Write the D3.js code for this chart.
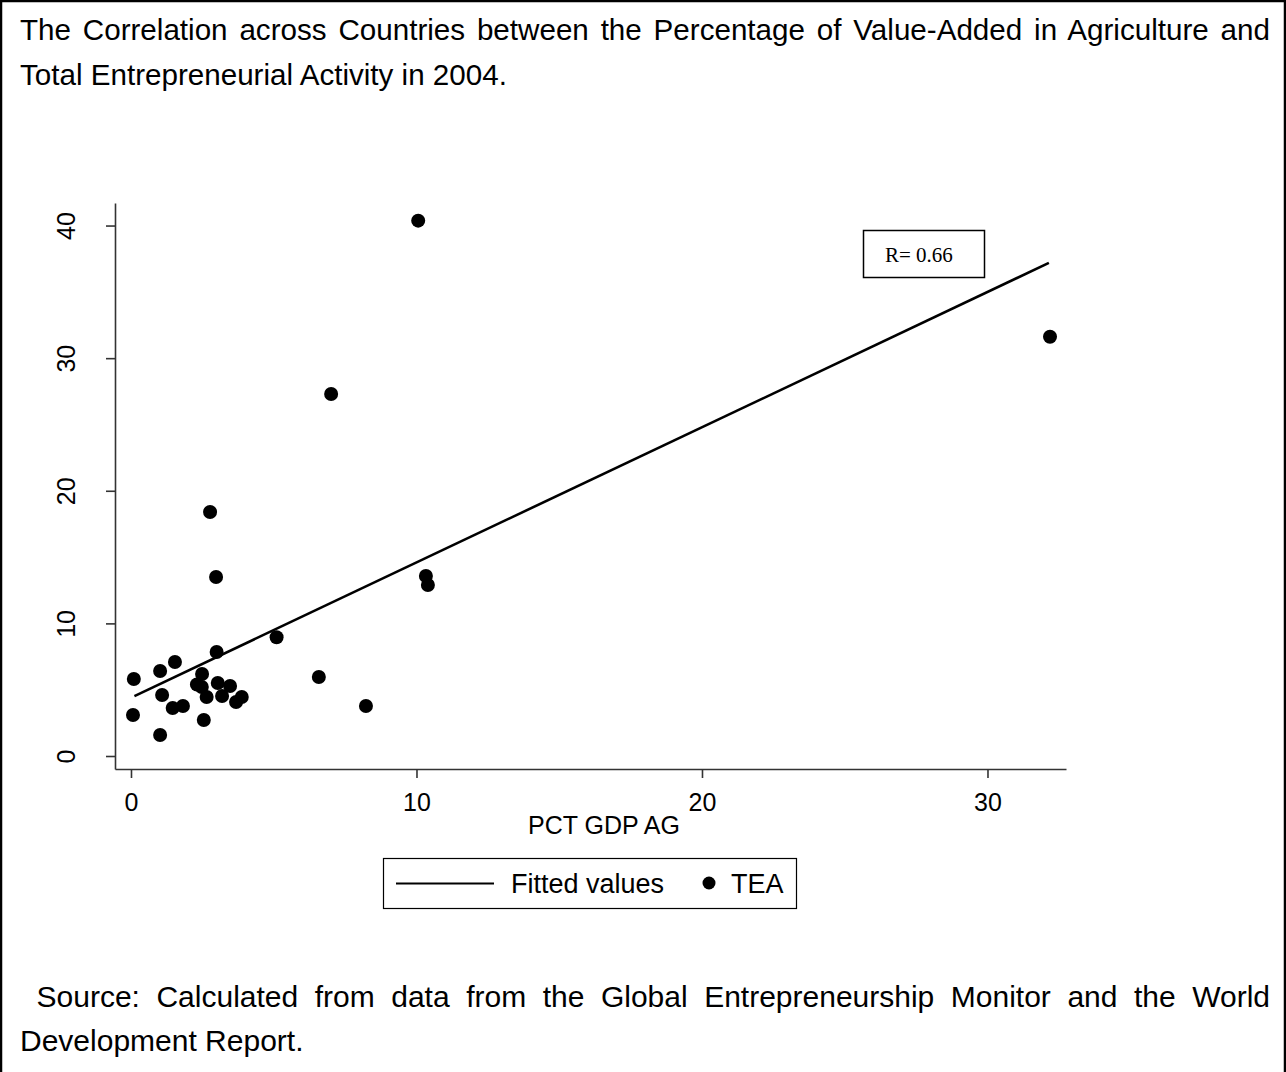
<!DOCTYPE html>
<html>
<head>
<meta charset="utf-8">
<script src="https://cdn.jsdelivr.net/npm/d3@7/dist/d3.min.js"></script>
<style>
  body { margin: 0; background: #fff; }
  svg text { font-family: "Liberation Sans", Arial, sans-serif; fill: #000; }
  .axis path, .axis line { stroke: #333; stroke-width: 1.6px; }
  .axis text { font-size: 25px; font-family: "Liberation Sans", Arial, sans-serif; fill: #000; }
</style>
</head>
<body>
<div id="chart"></div>
<script>
// TEA against PCT GDP AG, one entry per country
var pctGdpAg = [0.10, 0.07, 1.02, 1.09, 1.02, 1.54, 1.46, 1.82, 2.31, 2.49,
                2.48, 2.65, 2.55, 3.00, 3.04, 3.47, 3.19, 3.68, 3.88, 2.77,
                2.98, 5.10, 6.58, 7.01, 8.23, 10.06, 10.33, 10.40, 32.19];
var tea      = [5.81, 3.09, 6.41, 4.60, 1.58, 7.09, 3.62, 3.77, 5.39, 6.18,
                5.20, 4.45, 2.71, 7.84, 5.51, 5.28, 4.52, 4.07, 4.45, 18.40,
                13.50, 8.95, 5.96, 27.30, 3.77, 40.37, 13.57, 12.90, 31.62];

// ends of the fitted line
var fitX = [0.12, 32.15];
var fitY = [4.52, 37.18];

var xTicks = [0, 10, 20, 30];
var yTicks = [0, 10, 20, 30, 40];

var titleLines = ["The Correlation across Countries between the Percentage of Value-Added in Agriculture and",
                  "Total Entrepreneurial Activity in 2004."];
var sourceLines = [" Source: Calculated from data from the Global Entrepreneurship Monitor and the World",
                   "Development Report."];
var rLabel = "R= 0.66";
var legendLabels = ["Fitted values", "TEA"];

var W = 1286, H = 1072;
var svg = d3.select("#chart").append("svg").attr("width", W).attr("height", H);

// page frame
svg.append("path")
    .attr("d", "M1," + H + "V1H" + (W - 1) + "V" + H)
    .attr("fill", "none").attr("stroke", "#000").attr("stroke-width", 2.5);

// justified text lines (last line of each paragraph left aligned)
function para(lines, x0, x1, y0, lh, fs) {
    lines.forEach(function (s, i) {
        var t = svg.append("text")
            .attr("x", x0).attr("y", y0 + i * lh)
            .style("font-size", fs + "px")
            .style("white-space", "pre")
            .text(s);
        if (i < lines.length - 1) {
            var w = t.node().getComputedTextLength();
            var gaps = s.split(" ").length - 1;
            t.style("word-spacing", ((x1 - x0 - w) / gaps) + "px");
        }
    });
}
para(titleLines, 20, 1270, 40, 45, 29.6);
para(sourceLines, 20, 1270, 1007, 44, 30);

var x = d3.scaleLinear().domain([-0.56, 32.75]).range([115, 1066]);
var y = d3.scaleLinear().domain([-0.98, 41.7]).range([769, 203]);

svg.append("g")
    .attr("class", "axis")
    .attr("transform", "translate(0,769)")
    .call(d3.axisBottom(x).tickValues(xTicks).tickSize(9).tickSizeOuter(0).tickPadding(15));

var ya = svg.append("g")
    .attr("class", "axis")
    .attr("transform", "translate(115,0)")
    .call(d3.axisLeft(y).tickValues(yTicks).tickSize(9).tickSizeOuter(0));
ya.selectAll(".tick text")
    .attr("x", 0).attr("dy", 0)
    .attr("transform", "translate(-40,0) rotate(-90)")
    .attr("text-anchor", "middle");

svg.append("text")
    .attr("x", 604).attr("y", 834)
    .attr("text-anchor", "middle")
    .style("font-size", "25px")
    .text("PCT GDP AG");

// fitted line
svg.append("line")
    .attr("x1", x(fitX[0])).attr("y1", y(fitY[0]))
    .attr("x2", x(fitX[1])).attr("y2", y(fitY[1]))
    .attr("stroke", "#000").attr("stroke-width", 2.6);

// points
svg.selectAll(".dot")
    .data(pctGdpAg)
    .enter().append("circle")
    .attr("class", "dot")
    .attr("cx", d => x(d))
    .attr("cy", (d, i) => y(tea[i]))
    .attr("r", 7)
    .attr("fill", "#000");

// R box
svg.append("rect")
    .attr("x", 863.5).attr("y", 230.5).attr("width", 121).attr("height", 47)
    .attr("fill", "none").attr("stroke", "#000").attr("stroke-width", 1.5);
svg.append("text")
    .attr("x", 885).attr("y", 262)
    .style("font-family", "'Liberation Serif', 'Times New Roman', serif")
    .style("font-size", "21px")
    .text(rLabel);

// legend
var lg = svg.append("g");
lg.append("rect")
    .attr("x", 383.5).attr("y", 858.5).attr("width", 413).attr("height", 50)
    .attr("fill", "none").attr("stroke", "#000").attr("stroke-width", 1.2);
lg.append("line")
    .attr("x1", 396).attr("x2", 494).attr("y1", 883.5).attr("y2", 883.5)
    .attr("stroke", "#000").attr("stroke-width", 2.2);
lg.append("text").attr("x", 511).attr("y", 893).style("font-size", "27px").text(legendLabels[0]);
lg.append("circle").attr("cx", 709).attr("cy", 883).attr("r", 6.5).attr("fill", "#000");
lg.append("text").attr("x", 731).attr("y", 893).style("font-size", "27px").text(legendLabels[1]);
</script>
</body>
</html>
